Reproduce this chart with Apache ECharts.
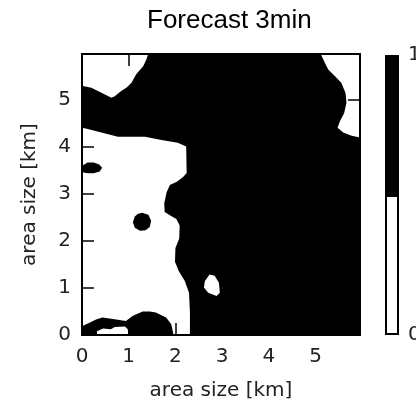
<!DOCTYPE html>
<html>
<head>
<meta charset="utf-8">
<script src="https://cdn.jsdelivr.net/npm/echarts@6/dist/echarts.min.js"></script>
<style>
  html, body { margin: 0; padding: 0; background: #fff; }
  #main { width: 416px; height: 403px; }
</style>
</head>
<body>
<div id="main"></div>
<script>
var myChart = echarts.init(document.getElementById('main'));

// extent of the field, km
var xMax = 5.95;
var yMax = 5.98;
var tickLabels = [0, 1, 2, 3, 4, 5];

// mask levels: 0 = no rain (white), 1 = rain (black)
var levelColors = ['#ffffff', '#000000'];
var colorbarLevels = [0, 0.5, 1];

// outlines, [x km, y km]
var fullArea = [[-0.1, -0.1], [6.1, -0.1], [6.1, 6.1], [-0.1, 6.1]];
var whiteTopLeft = [[-0.1, 6.1], [1.43, 6.1], [1.41, 5.96], [1.38, 5.87], [1.31, 5.72], [1.16, 5.55],
    [1.06, 5.37], [0.95, 5.26], [0.84, 5.19], [0.70, 5.08], [0.63, 5.05], [0.49, 5.12],
    [0.34, 5.19], [0.2, 5.26], [0.02, 5.3], [-0.1, 5.3]];
var whiteTopRight = [[5.1, 6.1], [5.12, 5.96], [5.2, 5.79], [5.27, 5.65], [5.41, 5.51], [5.55, 5.37],
    [5.64, 5.15], [5.66, 4.94], [5.61, 4.72], [5.52, 4.55], [5.47, 4.41], [5.59, 4.31],
    [5.77, 4.24], [6.1, 4.17], [6.1, 6.1]];
var whiteLowerLeft = [[-0.1, 4.41], [0.06, 4.4], [0.33, 4.33], [0.77, 4.22], [1.35, 4.22], [1.7, 4.15],
    [2.05, 4.09], [2.23, 4.01], [2.24, 3.45], [2.17, 3.37], [2.03, 3.26], [1.88, 3.19],
    [1.81, 3.03], [1.76, 2.8], [1.77, 2.62], [1.88, 2.55], [2.02, 2.47], [2.09, 2.33],
    [2.08, 2.05], [2.0, 1.85], [1.99, 1.56], [2.07, 1.36], [2.2, 1.15], [2.29, 0.9],
    [2.31, 0.5], [2.31, -0.1], [-0.1, -0.1]];
var whiteDrop = [[2.73, 1.29], [2.84, 1.26], [2.93, 1.11], [2.95, 0.9], [2.88, 0.83], [2.7, 0.9],
    [2.61, 1.01], [2.63, 1.15]];
var blackLeftBlob = [[-0.1, 3.5], [0.03, 3.62], [0.12, 3.67], [0.25, 3.67], [0.37, 3.63], [0.43, 3.56],
    [0.38, 3.48], [0.25, 3.44], [0.12, 3.44], [0.03, 3.46]];
var blackDot = [[1.29, 2.6], [1.42, 2.56], [1.48, 2.43], [1.45, 2.3], [1.36, 2.23], [1.24, 2.22],
    [1.13, 2.28], [1.09, 2.4], [1.13, 2.52], [1.2, 2.58]];
var blackBottom = [[-0.1, -0.1], [-0.1, 0.19], [0.01, 0.19], [0.16, 0.26], [0.3, 0.33], [0.44, 0.37],
    [0.66, 0.34], [0.94, 0.3], [1.09, 0.41], [1.3, 0.5], [1.45, 0.5], [1.58, 0.48],
    [1.8, 0.37], [1.91, 0.23], [1.95, 0.05], [1.97, -0.1]];
var whiteBottom = [[0.32, -0.1], [0.32, 0.08], [0.45, 0.14], [0.62, 0.12], [0.7, 0.17], [0.92, 0.18],
    [0.98, 0.12], [1.0, -0.1]];

// drawn in order, later ones on top
var regions = [
    { value: 1, points: fullArea },
    { value: 0, points: whiteTopLeft },
    { value: 0, points: whiteTopRight },
    { value: 0, points: whiteLowerLeft },
    { value: 0, points: whiteDrop },
    { value: 1, points: blackLeftBlob },
    { value: 1, points: blackDot },
    { value: 1, points: blackBottom },
    { value: 0, points: whiteBottom }
];

var font = 'DejaVu Sans';
var frame = { show: true, onZero: false, lineStyle: { color: '#000', width: 2 } };
var ticks = { show: true, inside: true, length: 12, lineStyle: { color: '#000', width: 1.5 } };
var tickText = function (v) { return tickLabels.indexOf(v) >= 0 ? String(v) : ''; };

var option = {
    animation: false,
    title: {
        text: 'Forecast 3min',
        left: 142,
        top: 3,
        textStyle: { fontFamily: 'Liberation Sans', fontSize: 26, fontWeight: 'normal', color: '#000' }
    },
    grid: [
        { left: 82, top: 54, width: 278, height: 281, outerBoundsMode: 'none', containLabel: false },
        { left: 385, top: 55, width: 14, height: 280, outerBoundsMode: 'none', containLabel: false }
    ],
    xAxis: [
        {
            gridIndex: 0, type: 'value', position: 'bottom', min: 0, max: xMax, interval: 1, z: 10,
            name: 'area size [km]', nameLocation: 'middle', nameGap: 46,
            nameTextStyle: { fontFamily: font, fontSize: 20, color: '#222' },
            axisLine: frame, axisTick: ticks, splitLine: { show: false },
            axisLabel: { fontFamily: font, fontSize: 20, color: '#222', margin: 12, showMaxLabel: false,
                formatter: tickText }
        },
        {
            gridIndex: 0, type: 'value', position: 'top', min: 0, max: xMax, interval: 1, z: 10,
            axisLine: frame, axisTick: ticks, splitLine: { show: false }, axisLabel: { show: false }
        },
        {
            gridIndex: 1, type: 'category', data: ['bar'], show: false
        }
    ],
    yAxis: [
        {
            gridIndex: 0, type: 'value', position: 'left', min: 0, max: yMax, interval: 1, z: 10,
            name: 'area size [km]', nameLocation: 'middle', nameGap: 42,
            nameTextStyle: { fontFamily: font, fontSize: 20, color: '#222' },
            axisLine: frame, axisTick: ticks, splitLine: { show: false },
            axisLabel: { fontFamily: font, fontSize: 20, color: '#222', margin: 11, showMaxLabel: false,
                formatter: tickText }
        },
        {
            gridIndex: 0, type: 'value', position: 'right', min: 0, max: yMax, interval: 1, z: 10,
            axisLine: frame, axisTick: ticks, splitLine: { show: false }, axisLabel: { show: false }
        },
        {
            gridIndex: 1, type: 'value', position: 'right', min: 0, max: 1, interval: 1,
            axisLine: { show: false }, axisTick: { show: false }, splitLine: { show: false },
            axisLabel: { fontFamily: font, fontSize: 20, color: '#222', margin: 9 }
        }
    ],
    series: [
        {
            type: 'custom',
            xAxisIndex: 0,
            yAxisIndex: 0,
            clip: true,
            silent: true,
            data: regions.map(function (r, i) { return [r.points[0][0], r.points[0][1], i]; }),
            renderItem: function (params, api) {
                var r = regions[params.dataIndex];
                var pts = r.points.map(function (p) { return api.coord(p); });
                return { type: 'polygon', shape: { points: pts }, style: { fill: levelColors[r.value], stroke: null } };
            }
        },
        {
            type: 'bar', xAxisIndex: 2, yAxisIndex: 2, stack: 'cb', barWidth: '100%', silent: true,
            data: [colorbarLevels[1] - colorbarLevels[0]],
            itemStyle: { color: levelColors[0], borderColor: '#000', borderWidth: 2 }
        },
        {
            type: 'bar', xAxisIndex: 2, yAxisIndex: 2, stack: 'cb', barWidth: '100%', silent: true,
            data: [colorbarLevels[2] - colorbarLevels[1]],
            itemStyle: { color: levelColors[1], borderColor: '#000', borderWidth: 2 }
        }
    ]
};

if (option && typeof option === "object") {
    myChart.setOption(option, true);
}
</script>
</body>
</html>
